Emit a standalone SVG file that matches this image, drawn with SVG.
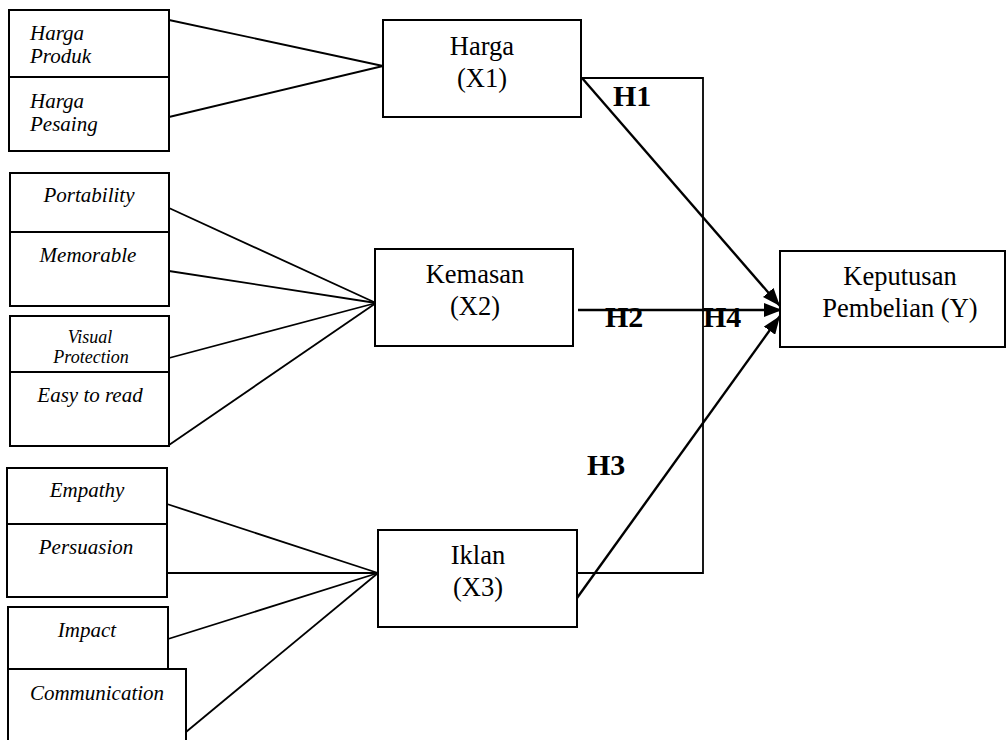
<svg xmlns="http://www.w3.org/2000/svg" width="1007" height="740" viewBox="0 0 1007 740">
<style>
  .box{fill:#fff;stroke:#000;stroke-width:2}
  .ind{font-family:"Liberation Serif",serif;font-style:italic;font-size:21px;fill:#000}
  .main{font-family:"Liberation Serif",serif;font-size:26.5px;fill:#000;text-anchor:middle}
  .hyp{font-family:"Liberation Serif",serif;font-weight:bold;font-size:30px;fill:#000}
  .ln{stroke:#000;stroke-width:1.8;fill:none}
  .arr{stroke:#000;stroke-width:2.4;fill:none;marker-end:url(#ah)}
  .c{text-anchor:middle}
  .sm{font-size:18px}
</style>
<defs>
  <marker id="ah" markerUnits="userSpaceOnUse" markerWidth="20" markerHeight="14" refX="18" refY="7" orient="auto">
    <path d="M0,0 L18,7 L0,14 z" fill="#000"/>
  </marker>
</defs>

<g id="connectors">
  <line class="ln" x1="169" y1="20" x2="383" y2="66"/>
  <line class="ln" x1="169" y1="117" x2="383" y2="66"/>
  <line class="ln" x1="169" y1="208" x2="376" y2="303"/>
  <line class="ln" x1="169" y1="271" x2="376" y2="303"/>
  <line class="ln" x1="169" y1="358" x2="376" y2="303"/>
  <line class="ln" x1="169" y1="445" x2="376" y2="303"/>
  <line class="ln" x1="167" y1="504" x2="378" y2="573"/>
  <line class="ln" x1="167" y1="573" x2="378" y2="573"/>
  <line class="ln" x1="168" y1="639" x2="378" y2="573"/>
  <line class="ln" x1="186" y1="732" x2="378" y2="573"/>
  <polyline class="ln" points="581,78 703,78 703,573 577,573"/>
  <line class="arr" x1="582" y1="78" x2="780" y2="306"/>
  <line class="arr" x1="578" y1="310" x2="782" y2="310"/>
  <line class="arr" x1="577" y1="598" x2="780" y2="316"/>
</g>

<g id="harga-produk"><rect class="box" x="9" y="10" width="160" height="67"/>
  <text class="ind" x="30" y="40">Harga</text><text class="ind" x="30" y="63">Produk</text></g>
<g id="harga-pesaing"><rect class="box" x="9" y="77" width="160" height="74"/>
  <text class="ind" x="30" y="108">Harga</text><text class="ind" x="30" y="131">Pesaing</text></g>

<g id="portability"><rect class="box" x="10" y="173" width="159" height="59"/>
  <text class="ind c" x="89" y="202">Portability</text></g>
<g id="memorable"><rect class="box" x="10" y="232" width="159" height="74"/>
  <text class="ind c" x="88" y="262">Memorable</text></g>
<g id="visual-protection"><rect class="box" x="10" y="316" width="159" height="56"/>
  <text class="ind c sm" x="90" y="343">Visual</text><text class="ind c sm" x="91" y="363">Protection</text></g>
<g id="easy-to-read"><rect class="box" x="10" y="372" width="159" height="74"/>
  <text class="ind c" x="90" y="402">Easy to read</text></g>

<g id="empathy"><rect class="box" x="7" y="468" width="160" height="56"/>
  <text class="ind c" x="87" y="497">Empathy</text></g>
<g id="persuasion"><rect class="box" x="7" y="524" width="160" height="73"/>
  <text class="ind c" x="86" y="554">Persuasion</text></g>
<g id="impact"><rect class="box" x="8" y="607" width="160" height="62"/>
  <text class="ind c" x="87" y="637">Impact</text></g>
<g id="communication"><rect class="box" x="8" y="669" width="178" height="80"/>
  <text class="ind c" x="97" y="700">Communication</text></g>

<g id="harga"><rect class="box" x="383" y="20" width="198" height="97"/>
  <text class="main" x="482" y="55">Harga</text><text class="main" x="482" y="87">(X1)</text></g>
<g id="kemasan"><rect class="box" x="375" y="249" width="198" height="97"/>
  <text class="main" x="475" y="283">Kemasan</text><text class="main" x="475" y="315">(X2)</text></g>
<g id="iklan"><rect class="box" x="378" y="530" width="199" height="97"/>
  <text class="main" x="478" y="564">Iklan</text><text class="main" x="478" y="596">(X3)</text></g>
<g id="keputusan"><rect class="box" x="780" y="251" width="225" height="96"/>
  <text class="main" x="900" y="285">Keputusan</text><text class="main" x="900" y="317">Pembelian (Y)</text></g>

<g id="labels">
  <text class="hyp" x="613" y="106">H1</text>
  <text class="hyp" x="605" y="327">H2</text>
  <text class="hyp" x="703" y="327">H4</text>
  <text class="hyp" x="587" y="475">H3</text>
</g>
</svg>
